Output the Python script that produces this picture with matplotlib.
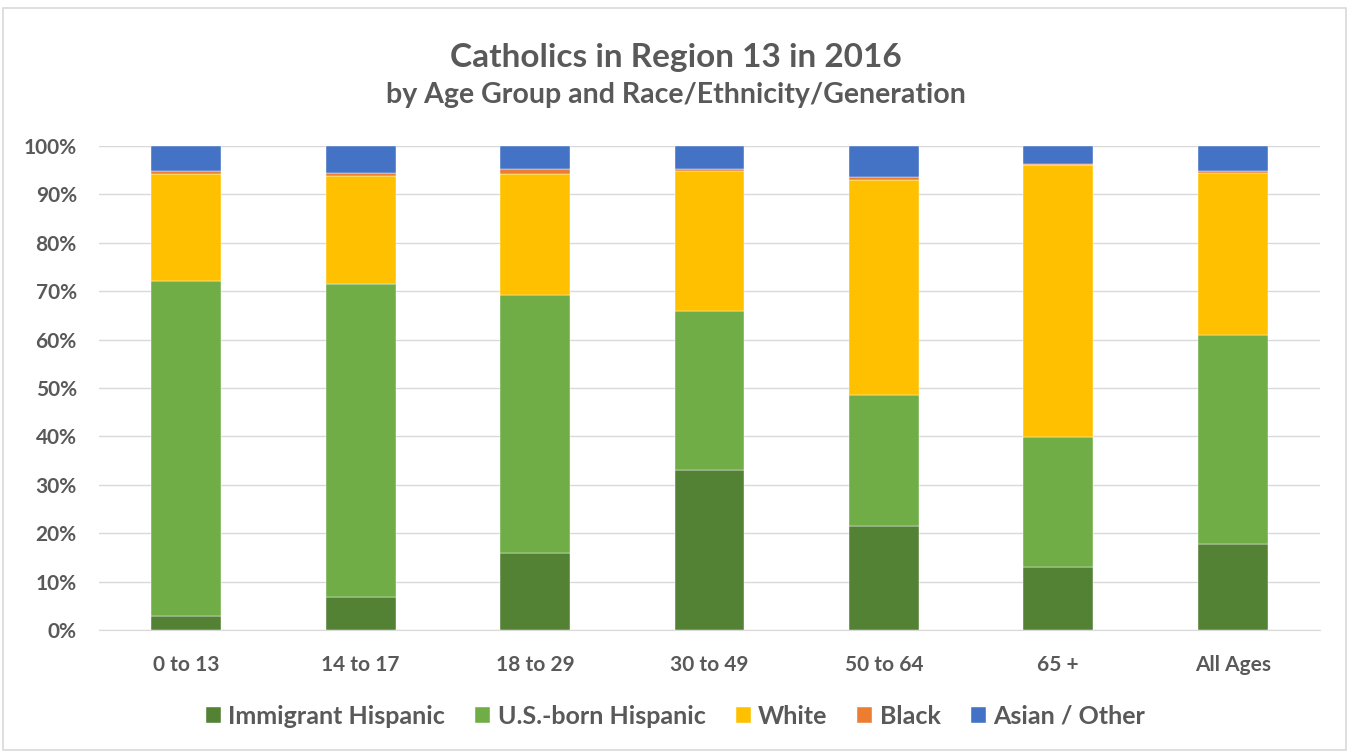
import numpy as np
import matplotlib.pyplot as plt
from matplotlib.patches import Rectangle
from matplotlib.ticker import PercentFormatter

# values in percent
groups = ['0 to 13', '14 to 17', '18 to 29', '30 to 49', '50 to 64', '65 +', 'All Ages']
immigrant = [2.9, 6.8, 15.9, 33.1, 21.5, 13.0, 17.8]
us_born = [69.2, 64.7, 53.3, 32.8, 27.1, 26.9, 43.2]
white = [22.1, 22.2, 24.9, 28.9, 44.4, 56.1, 33.4]
black = [0.6, 0.7, 1.1, 0.4, 0.5, 0.3, 0.5]
asian = [5.2, 5.6, 4.8, 4.8, 6.5, 3.7, 5.1]

series = ['Immigrant Hispanic', 'U.S.-born Hispanic', 'White', 'Black', 'Asian / Other']
colors = ['#548235', '#70AD47', '#FFC000', '#ED7D31', '#4472C4']

plt.rcParams['font.family'] = ['Lato', 'DejaVu Sans']
grey = '#595959'

fig = plt.figure(figsize=(13.51, 7.54), dpi=100)
fig.patches.append(Rectangle((0.002, 0.005), 0.994, 0.984, transform=fig.transFigure,
                             fill=False, edgecolor='#D9D9D9', linewidth=1.2))
ax = fig.add_axes([0.0733, 0.1645, 0.9037, 0.642])

x = np.arange(len(groups))
bottom = np.zeros(len(groups))
for vals, name, c in zip([immigrant, us_born, white, black, asian], series, colors):
    v = np.array(vals) / 100
    ax.bar(x, v, 0.4, bottom=bottom, color=c, label=name, zorder=3,
           edgecolor='white', linewidth=0.3)
    bottom += v

ax.set_xlim(-0.5, len(groups) - 0.5)
ax.set_ylim(0, 1)
ax.set_yticks(np.arange(0, 1.01, 0.1))
ax.yaxis.set_major_formatter(PercentFormatter(1.0, decimals=0))
ax.set_xticks(x)
ax.set_xticklabels(groups)
ax.grid(axis='y', color='#D9D9D9', linewidth=1, zorder=0)
for s in ['top', 'right', 'left']:
    ax.spines[s].set_visible(False)
ax.spines['bottom'].set_color('#D9D9D9')
ax.tick_params(length=0, labelsize=15, labelcolor=grey)
ax.tick_params(axis='y', pad=16)
ax.tick_params(axis='x', pad=18)
for lab in ax.get_xticklabels() + ax.get_yticklabels():
    lab.set_fontweight('bold')

fig.text(0.5, 0.924, 'Catholics in Region 13 in 2016', ha='center', va='center',
         fontsize=24, fontweight='bold', color=grey)
fig.text(0.5, 0.874, 'by Age Group and Race/Ethnicity/Generation', ha='center', va='center',
         fontsize=20.5, fontweight='bold', color=grey)

fig.legend(loc='center', bbox_to_anchor=(0.5, 0.05), ncol=5, frameon=False,
           handlelength=0.6, handleheight=0.6, handletextpad=0.3, columnspacing=1.2,
           prop={'size': 18, 'weight': 'bold'}, labelcolor=grey)

fig.savefig('out.png', dpi=100)
